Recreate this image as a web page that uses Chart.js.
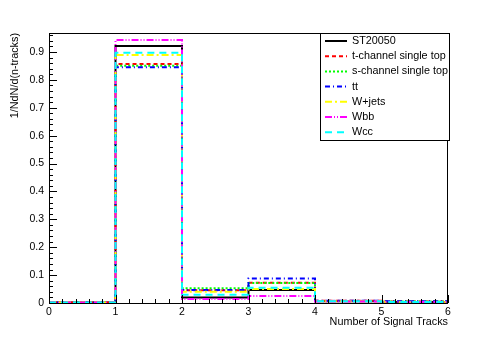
<!DOCTYPE html>
<html>
<head>
<meta charset="utf-8">
<script src="https://cdn.jsdelivr.net/npm/chart.js@4.4.0/dist/chart.umd.min.js"></script>
<style>
  html, body { margin: 0; padding: 0; background: #fff; }
  #wrap { width: 498px; height: 338px; }
</style>
</head>
<body>
<div id="wrap"><canvas id="miGrafica" width="498" height="338"></canvas></div>
<script>
// bin edges of the histogram (number of signal tracks)
let binEdges = [0, 1, 2, 3, 4, 5, 6]
let xTicks = [0, 1, 2, 3, 4, 5, 6]
let yTicks = [0, 0.1, 0.2, 0.3, 0.4, 0.5, 0.6, 0.7, 0.8, 0.9]

let etiquetas = ["ST20050", "t-channel single top", "s-channel single top", "tt", "W+jets", "Wbb", "Wcc"]

// bin contents, one value per bin
let st20050   = [0.002, 0.921, 0.020, 0.047, 0.006, 0.004]
let tchannel  = [0.002, 0.857, 0.046, 0.073, 0.008, 0.005]
let schannel  = [0.002, 0.851, 0.053, 0.072, 0.007, 0.005]
let ttbar     = [0.002, 0.845, 0.047, 0.088, 0.008, 0.006]
let wjets     = [0.002, 0.889, 0.040, 0.050, 0.006, 0.004]
let wbb       = [0.002, 0.943, 0.014, 0.025, 0.005, 0.004]
let wcc       = [0.002, 0.897, 0.030, 0.055, 0.006, 0.004]

let colores = ["#000000", "#ff0000", "#00ff00", "#0000ff", "#ffff00", "#ff00ff", "#00ffff"]
let trazos = [[], [4, 3], [2, 2], [5, 3, 1, 3], [7, 3, 2, 3], [7, 2, 1, 2, 1, 2], [7, 5]]

function histo(valores) {
    let puntos = []
    for (let i = 0; i < valores.length; i++) {
        puntos.push({ x: binEdges[i], y: valores[i] })
    }
    puntos.push({ x: binEdges[binEdges.length - 1], y: valores[valores.length - 1] })
    return puntos
}

let series = [st20050, tchannel, schannel, ttbar, wjets, wbb, wcc]

let fuente = "Liberation Sans, Arial, sans-serif"

// frame, inside ticks and legend box in ROOT style
let estiloRoot = {
    id: "estiloRoot",
    afterDraw(chart) {
        let ctx = chart.ctx
        let a = chart.chartArea
        let xs = chart.scales.x
        let ys = chart.scales.y
        ctx.save()
        ctx.strokeStyle = "#000"
        ctx.lineWidth = 1
        ctx.setLineDash([])
        ctx.strokeRect(a.left + 0.5, a.top + 0.5, a.right - a.left - 1, a.bottom - a.top)

        ctx.beginPath()
        for (let k = 0; k <= 30; k++) {
            let v = k * 0.2
            let px = Math.round(xs.getPixelForValue(v)) + 0.5
            let len = (k % 5 == 0) ? 8 : 4
            ctx.moveTo(px, a.bottom)
            ctx.lineTo(px, a.bottom - len)
        }
        for (let k = 0; k <= 48; k++) {
            let v = k * 0.02
            let py = Math.round(ys.getPixelForValue(v)) + 0.5
            let len = (k % 5 == 0) ? 8 : 4
            ctx.moveTo(a.left, py)
            ctx.lineTo(a.left + len, py)
        }
        ctx.stroke()

        // legend
        let lx = 320, ly = 33, lw = 129, lh = 107
        ctx.fillStyle = "#fff"
        ctx.fillRect(lx, ly, lw, lh)
        ctx.strokeRect(lx + 0.5, ly + 0.5, lw, lh)
        ctx.font = "10.8px " + fuente
        ctx.textBaseline = "middle"
        chart.data.datasets.forEach(function (ds, i) {
            let yy = ly + 8 + i * 15.2
            ctx.beginPath()
            ctx.strokeStyle = ds.borderColor
            ctx.lineWidth = 2
            ctx.setLineDash(ds.borderDash)
            ctx.moveTo(325, yy)
            ctx.lineTo(347, yy)
            ctx.stroke()
            ctx.setLineDash([])
            ctx.fillStyle = "#000"
            ctx.fillText(ds.label, 352, yy)
        })
        ctx.restore()
    }
}

let miCanvas = document.getElementById("miGrafica").getContext("2d")

let chart = new Chart(miCanvas, {
    type: "line",
    data: {
        datasets: series.map(function (s, i) {
            return {
                label: etiquetas[i],
                data: histo(s),
                borderColor: colores[i],
                borderDash: trazos[i],
                borderWidth: 2,
                stepped: true,
                fill: false,
                pointRadius: 0,
                tension: 0,
                order: series.length - i
            }
        })
    },
    options: {
        responsive: false,
        animation: false,
        events: [],
        layout: { padding: { top: 33, right: 50, left: 0, bottom: 0 } },
        plugins: {
            legend: { display: false },
            tooltip: { enabled: false }
        },
        scales: {
            x: {
                type: "linear",
                min: 0,
                max: 6,
                grid: { display: false, drawTicks: false },
                border: { display: false },
                ticks: {
                    color: "#000",
                    font: { family: fuente, size: 10.5 },
                    padding: 3,
                    stepSize: 1,
                    maxRotation: 0,
                    includeBounds: false,
                    callback: function (v) { return xTicks.includes(v) ? String(v) : "" }
                },
                title: {
                    display: true,
                    text: "Number of Signal Tracks",
                    align: "end",
                    color: "#000",
                    font: { family: fuente, size: 10.8 },
                    padding: { top: 0, bottom: 9 }
                },
                afterFit: function (scale) { scale.height = 35 }
            },
            y: {
                type: "linear",
                min: 0,
                max: 0.968,
                grid: { display: false, drawTicks: false },
                border: { display: false },
                ticks: {
                    color: "#000",
                    font: { family: fuente, size: 10.5 },
                    padding: 5,
                    stepSize: 0.1,
                    includeBounds: false,
                    callback: function (v) {
                        let r = Math.round(v * 10) / 10
                        return yTicks.includes(r) ? String(r) : ""
                    }
                },
                title: {
                    display: true,
                    text: "1/NdN/d(n-tracks)",
                    align: "end",
                    color: "#000",
                    font: { family: fuente, size: 10.8 },
                    padding: { top: 9, bottom: 0 }
                },
                afterFit: function (scale) { scale.width = 49 }
            }
        }
    },
    plugins: [estiloRoot]
})
</script>
</body>
</html>
